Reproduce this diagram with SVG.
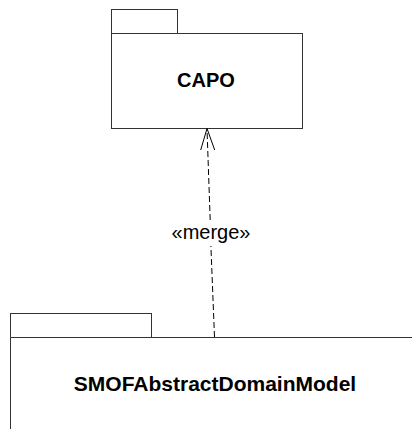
<svg xmlns="http://www.w3.org/2000/svg" width="412" height="429" viewBox="0 0 412 429">
<style>
.pk{fill:#fff;stroke:#333;stroke-width:1}
.nm{font-family:"Liberation Sans",Arial,sans-serif;font-weight:bold;font-size:20px;fill:#000;text-anchor:middle}
.lb{font-family:"Liberation Sans",Arial,sans-serif;font-size:20px;fill:#000;text-anchor:middle}
.dep{fill:none;stroke:#000;stroke-width:1;stroke-dasharray:6,3}
.hd{fill:none;stroke:#000;stroke-width:1}
</style>
<rect width="412" height="429" fill="#fff"/>
<g id="CAPO">
<rect class="pk" x="111.5" y="9.5" width="66" height="24"/>
<rect class="pk" x="111.5" y="33.5" width="191" height="95"/>
<text class="nm" x="206" y="87">CAPO</text>
</g>
<g id="SMOFAbstractDomainModel">
<rect class="pk" x="10.5" y="313.5" width="141" height="24"/>
<path class="pk" d="M412 337.5 H10.5 V429" fill="none"/>
<text class="nm" x="215" y="390.5" font-size="21" style="font-size:21px">SMOFAbstractDomainModel</text>
</g>
<g id="connectors">
<path class="dep" d="M214.5 337 L210.9 246"/>
<path class="dep" d="M210.2 220 L207 129"/>
<path class="hd" d="M200.7 150 L207 128.5 L214.7 150"/>
<text class="lb" x="211" y="239">«merge»</text>
</g>
</svg>
